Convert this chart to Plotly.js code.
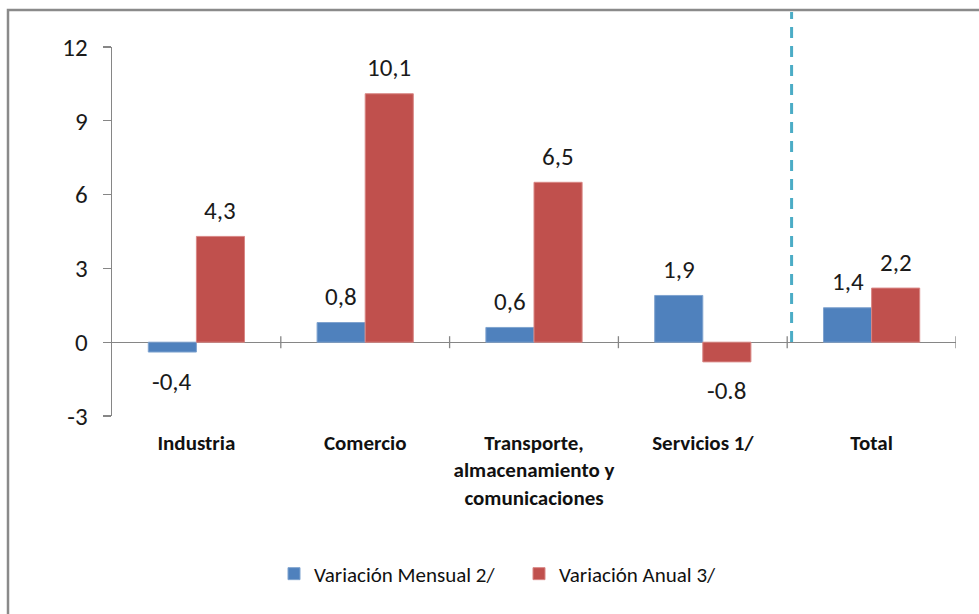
<!DOCTYPE html>
<html>
<head>
<meta charset="utf-8">
<script src="https://cdn.plot.ly/plotly-3.0.1.min.js"></script>
<style>html,body{margin:0;padding:0;background:#fff;}#chart{width:979px;height:614px;}</style>
</head>
<body>
<div id="chart"></div>
<script>
const categories = ['Industria', 'Comercio', 'Transporte,<br>almacenamiento y<br>comunicaciones', 'Servicios 1/', 'Total'];
const mensual = [-0.4, 0.8, 0.6, 1.9, 1.4];
const anual = [4.3, 10.1, 6.5, -0.8, 2.2];
const mensualLabels = ['-0,4', '0,8', '0,6', '1,9', '1,4'];
const anualLabels = ['4,3', '10,1', '6,5', '-0.8', '2,2'];
const yTicks = [-3, 0, 3, 6, 9, 12];
const seriesNames = ['Variación Mensual 2/', 'Variación Anual 3/'];

const FONT = 'Carlito, Lato, "Open Sans", sans-serif';
const W = 979, H = 614;
const margin = {l: 112, r: 23, t: 47, b: 198};
const plotW = W - margin.l - margin.r;
const plotH = H - margin.t - margin.b;
const bargap = 0.43;
const barPx = plotW / categories.length * (1 - bargap) / 2;

const traces = [
  {type: 'bar', name: seriesNames[0], x: categories, y: mensual,
   marker: {color: '#4F81BD', line: {color: '#7FA3CF', width: 1}}, hoverinfo: 'none'},
  {type: 'bar', name: seriesNames[1], x: categories, y: anual,
   marker: {color: '#C0504D', line: {color: '#D98785', width: 1}}, hoverinfo: 'none'}
];

const annotations = [];
[[mensual, mensualLabels, -1], [anual, anualLabels, 1]].forEach(([vals, labs, side]) => {
  vals.forEach((v, i) => {
    annotations.push({
      x: categories[i], y: v, xref: 'x', yref: 'y', text: labs[i], showarrow: false,
      xshift: side * barPx / 2, yshift: v >= 0 ? 26 : -29,
      font: {family: FONT, size: 25, color: '#1a1a1a'}, xanchor: 'center', yanchor: 'middle'
    });
  });
});

const shapes = [];
// boundary tick marks on the zero axis
for (let i = 0; i < categories.length; i++) {
  shapes.push({type: 'line', xref: 'x', yref: 'y', x0: i + 0.5, x1: i + 0.5,
    ysizemode: 'pixel', yanchor: 0, y0: -6, y1: 6, line: {color: '#868686', width: 1.3}});
}
// dashed separator before Total
shapes.push({type: 'line', xref: 'x', yref: 'paper', x0: categories.length - 1.5 + 0.026, x1: categories.length - 1.5 + 0.026,
  y0: (margin.b - (H - 490)) / plotH, y1: (margin.t + plotH - 12) / plotH,
  line: {color: '#4BACC6', width: 3, dash: '11px,8px'}});
// outer chart border (left & top visible)
shapes.push({type: 'rect', xref: 'paper', yref: 'paper',
  x0: (8 - margin.l) / plotW, x1: 2, y0: -2, y1: (margin.t + plotH - 10) / plotH,
  line: {color: '#8A8A8A', width: 2.5}, fillcolor: 'rgba(0,0,0,0)'});

const layout = {
  width: W, height: H, margin: margin,
  paper_bgcolor: '#fff', plot_bgcolor: '#fff',
  showlegend: true,
  barmode: 'group', bargap: bargap, bargroupgap: 0,
  font: {family: FONT, color: '#1a1a1a'},
  xaxis: {type: 'category', showline: false, ticks: '', showgrid: false, zeroline: false,
    tickfont: {family: FONT, size: 21, color: '#111', weight: 'bold'}, ticklabelstandoff: 12,
    range: [-0.5, categories.length - 0.5]},
  yaxis: {range: [-3, 12], tickvals: yTicks, ticktext: yTicks.map(String), showgrid: false,
    showline: true, linecolor: '#868686', linewidth: 1.3, ticks: 'outside', ticklen: 8,
    tickcolor: '#868686', tickwidth: 1.3, zeroline: true, zerolinecolor: '#868686', zerolinewidth: 1.3,
    tickfont: {family: FONT, size: 25, color: '#1a1a1a'}, ticklabelstandoff: 10},
  legend: {orientation: 'h', x: (274 - margin.l) / plotW, xanchor: 'left',
    y: (margin.t + plotH - 574) / plotH, yanchor: 'middle',
    font: {family: FONT, size: 21, color: '#111'}, itemwidth: 30, entrywidth: 200, entrywidthmode: 'pixels',
    bgcolor: 'rgba(0,0,0,0)'},
  annotations: annotations,
  shapes: shapes
};

Plotly.newPlot('chart', traces, layout, {displayModeBar: false, staticPlot: true});
</script>
</body>
</html>
